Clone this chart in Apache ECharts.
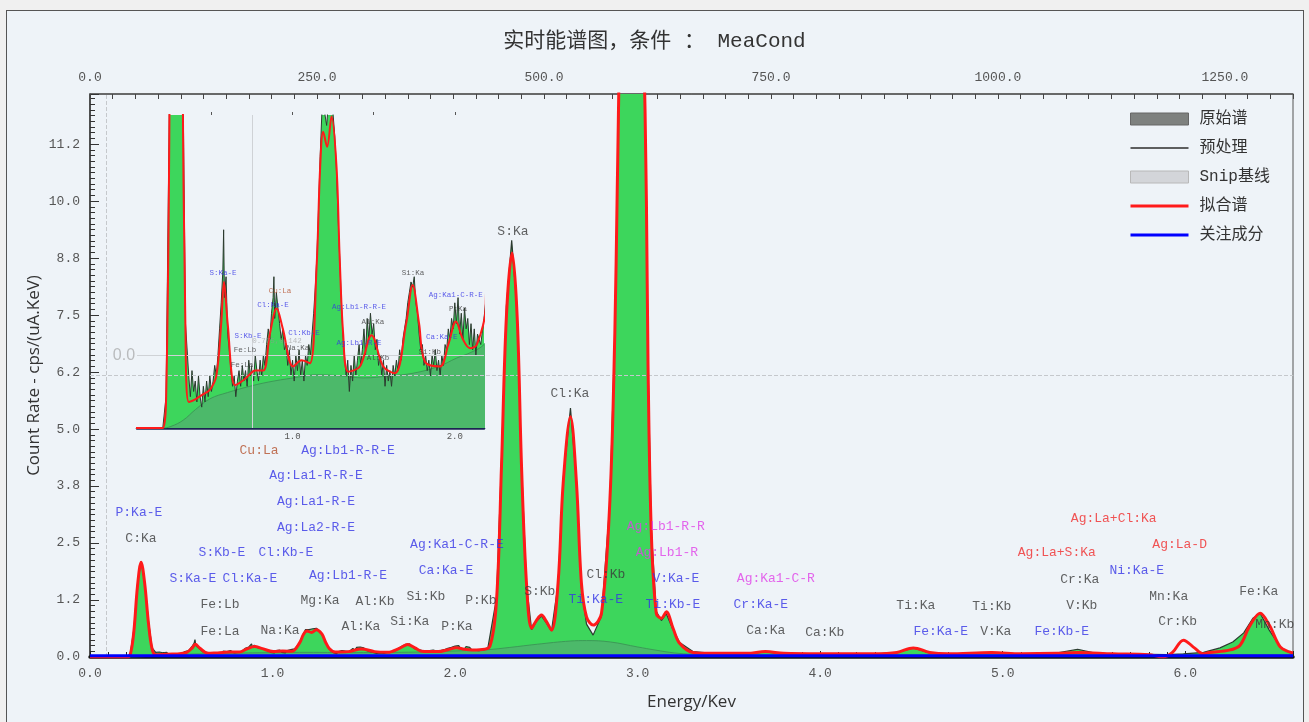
<!DOCTYPE html>
<html>
<head>
<meta charset="utf-8">
<script src="https://cdn.jsdelivr.net/npm/echarts@6/dist/echarts.min.js"></script>
<style>
  html, body { margin: 0; padding: 0; background: #f0f0f0; }
  #frame { position: absolute; left: 6px; top: 10px; width: 1296px; height: 720px; border: 1px solid #555; background: #eef3f8; }
  #chart { position: absolute; left: 0; top: 0; width: 1309px; height: 722px; }
</style>
</head>
<body>
<div id="frame"></div>
<div id="chart"></div>
<script>
// ---------------- DATA ----------------
const chartTitle = '实时能谱图，条件 ： MeaCond';
const legendNames = ['原始谱', '预处理', 'Snip基线', '拟合谱', '关注成分'];

const xTickLabels = ['0.0', '1.0', '2.0', '3.0', '4.0', '5.0', '6.0'];
const topTickLabels = ['0.0', '250.0', '500.0', '750.0', '1000.0', '1250.0'];
const yTickLabels = ['0.0', '1.2', '2.5', '3.8', '5.0', '6.2', '7.5', '8.8', '10.0', '11.2'];
const insetTickLabels = ['1.0', '2.0'];

// raw spectrum (energy keV, count rate)
const rawE = [0, 0.18, 0.20, 0.22, 0.24, 0.26, 0.28, 0.30, 0.32, 0.34, 0.36, 0.37, 0.38, 0.39, 0.40, 0.41, 0.42, 0.43, 0.44, 0.45, 0.46, 0.47, 0.48, 0.49,
  0.50, 0.51, 0.52, 0.53, 0.54, 0.55, 0.56, 0.57, 0.575, 0.58, 0.59, 0.60, 0.61, 0.62, 0.63, 0.64, 0.65, 0.66, 0.67, 0.68, 0.69,
  0.70, 0.71, 0.72, 0.73, 0.74, 0.75, 0.76, 0.77, 0.78, 0.79, 0.80, 0.81, 0.82, 0.83, 0.84, 0.85, 0.86, 0.87, 0.88, 0.885, 0.89,
  0.90, 0.91, 0.92, 0.93, 0.94, 0.95, 0.96, 0.97, 0.98, 0.99, 1.00, 1.01, 1.02, 1.03, 1.04, 1.05, 1.06, 1.07, 1.08, 1.09,
  1.10, 1.11, 1.12, 1.13, 1.14, 1.15, 1.16, 1.17, 1.18, 1.19, 1.20, 1.21, 1.22, 1.23, 1.24, 1.25, 1.26, 1.27, 1.28, 1.29,
  1.30, 1.31, 1.32, 1.33, 1.34, 1.35, 1.36, 1.37, 1.38, 1.39, 1.40, 1.41, 1.42, 1.43, 1.44, 1.45, 1.46, 1.47, 1.48, 1.49,
  1.50, 1.51, 1.52, 1.53, 1.54, 1.55, 1.56, 1.57, 1.58, 1.59, 1.60, 1.61, 1.62, 1.63, 1.64, 1.65, 1.66, 1.67, 1.68, 1.69,
  1.70, 1.71, 1.72, 1.73, 1.74, 1.75, 1.76, 1.77, 1.78, 1.79, 1.80, 1.81, 1.82, 1.83, 1.84, 1.85, 1.86, 1.87, 1.88, 1.89,
  1.90, 1.91, 1.92, 1.93, 1.94, 1.95, 1.96, 1.97, 1.98, 1.99, 2.00, 2.01, 2.02, 2.03, 2.04, 2.05, 2.06, 2.07, 2.08, 2.09,
  2.10, 2.11, 2.12, 2.13, 2.14, 2.16, 2.18, 2.19, 2.227, 2.254, 2.281, 2.31, 2.34, 2.364, 2.391, 2.419, 2.445, 2.473, 2.50,
  2.528, 2.564, 2.592, 2.632, 2.665, 2.692, 2.72, 2.756, 2.802, 2.848, 2.875, 2.888, 2.91, 2.95, 2.99, 3.03, 3.048, 3.057,
  3.075, 3.102, 3.13, 3.157, 3.194, 3.23, 3.303, 3.412, 3.6, 3.70, 3.8, 4.0, 4.3, 4.42, 4.51, 4.6, 4.7, 4.94, 5.1, 5.3,
  5.41, 5.5, 5.6, 5.8, 5.9, 5.99, 6.1, 6.19, 6.26, 6.32, 6.37, 6.41, 6.46, 6.52, 6.57, 6.59];
const rawV = [0, 0, 0, 0.06, 0.6, 1.6, 2.1, 1.62, 0.8, 0.2, 0.1, 0.06, 0.11, 0.07, 0.09, 0.05, 0.10, 0.06, 0.04, 0.08, 0.05, 0.09, 0.06, 0.10,
  0.07, 0.09, 0.12, 0.10, 0.14, 0.19, 0.24, 0.30, 0.38, 0.25, 0.29, 0.18, 0.15, 0.11, 0.08, 0.10, 0.06, 0.09, 0.11, 0.08, 0.12,
  0.09, 0.11, 0.08, 0.13, 0.10, 0.12, 0.09, 0.14, 0.11, 0.09, 0.13, 0.10, 0.14, 0.12, 0.16, 0.19, 0.17, 0.22, 0.25, 0.29, 0.21,
  0.26, 0.23, 0.20, 0.17, 0.19, 0.15, 0.16, 0.12, 0.15, 0.10, 0.13, 0.09, 0.14, 0.11, 0.15, 0.10, 0.13, 0.09, 0.14, 0.12,
  0.16, 0.14, 0.18, 0.22, 0.27, 0.33, 0.42, 0.52, 0.60, 0.64, 0.60, 0.58, 0.62, 0.66, 0.63, 0.60, 0.56, 0.50, 0.41, 0.33,
  0.25, 0.18, 0.14, 0.10, 0.13, 0.07, 0.12, 0.09, 0.14, 0.10, 0.13, 0.16, 0.12, 0.15, 0.19, 0.14, 0.21, 0.17, 0.22, 0.18,
  0.20, 0.15, 0.17, 0.12, 0.14, 0.10, 0.13, 0.08, 0.12, 0.09, 0.11, 0.08, 0.12, 0.10, 0.13, 0.11, 0.15, 0.13, 0.17, 0.19,
  0.21, 0.24, 0.26, 0.28, 0.27, 0.29, 0.24, 0.22, 0.18, 0.15, 0.16, 0.12, 0.14, 0.11, 0.13, 0.10, 0.14, 0.12, 0.15, 0.11,
  0.13, 0.10, 0.14, 0.12, 0.16, 0.15, 0.19, 0.17, 0.21, 0.19, 0.24, 0.20, 0.25, 0.18, 0.22, 0.17, 0.23, 0.19, 0.21, 0.16,
  0.20, 0.15, 0.19, 0.14, 0.18, 0.16, 0.21, 0.24, 1.3, 4.3, 7.7, 9.14, 7.6, 4.2, 1.6, 0.6, 0.78, 0.9, 0.75,
  0.57, 1.6, 3.9, 5.46, 3.85, 1.5, 0.72, 0.48, 0.9, 3.4, 7.1, 10.2, 15, 19, 19, 14, 10, 6.4,
  2.8, 1.0, 0.80, 0.95, 0.6, 0.32, 0.12, 0.08, 0.07, 0.11, 0.07, 0.07, 0.07, 0.1, 0.2, 0.09, 0.07, 0.09, 0.07, 0.09,
  0.17, 0.09, 0.07, 0.06, 0.05, 0.07, 0.1, 0.2, 0.33, 0.53, 0.85, 0.96, 0.59, 0.22, 0.1, 0.08];

// fitted spectrum
const fitE = [0, 0.18, 0.20, 0.22, 0.24, 0.26, 0.28, 0.30, 0.32, 0.34, 0.36, 0.40, 0.45, 0.49, 0.53, 0.56, 0.577, 0.60, 0.645, 0.69,
  0.727, 0.77, 0.819, 0.86, 0.902, 0.94, 1.004, 1.056, 1.107, 1.148, 1.17, 1.189, 1.213, 1.24, 1.271, 1.29, 1.312, 1.343, 1.415,
  1.487, 1.559, 1.631, 1.70, 1.74, 1.78, 1.816, 1.908, 1.96, 2.007, 2.05, 2.094, 2.136, 2.19, 2.227, 2.254, 2.281, 2.312, 2.34,
  2.364, 2.391, 2.419, 2.445, 2.473, 2.50, 2.528, 2.564, 2.592, 2.632, 2.665, 2.692, 2.72, 2.756, 2.802, 2.848, 2.875, 2.888,
  2.91, 2.95, 2.99, 3.03, 3.048, 3.057, 3.075, 3.102, 3.13, 3.157, 3.194, 3.23, 3.303, 3.412, 3.6, 3.70, 3.8, 4.0, 4.3, 4.42,
  4.51, 4.6, 4.7, 4.94, 5.1, 5.3, 5.41, 5.6, 5.8, 5.88, 5.93, 5.99, 6.05, 6.1, 6.13, 6.24, 6.30, 6.35, 6.41, 6.46, 6.52, 6.57, 6.59];
const fitV = [0, 0, 0, 0.05, 0.55, 1.55, 2.08, 1.6, 0.75, 0.18, 0.05, 0.055, 0.065, 0.073, 0.1, 0.2, 0.28, 0.2, 0.082, 0.09,
  0.10, 0.11, 0.11, 0.18, 0.229, 0.19, 0.118, 0.13, 0.124, 0.309, 0.5, 0.568, 0.539, 0.597, 0.50, 0.33, 0.18, 0.108, 0.118,
  0.178, 0.118, 0.105, 0.2, 0.274, 0.2, 0.127, 0.118, 0.16, 0.204, 0.17, 0.153, 0.16, 0.23, 1.25, 4.17, 7.46, 8.86, 7.46,
  4.17, 1.62, 0.63, 0.8, 0.92, 0.78, 0.59, 1.62, 3.81, 5.27, 3.81, 1.62, 0.88, 0.70, 0.96, 3.44, 7.1, 10.2,
  15, 19, 19, 14, 10, 6.37, 2.71, 0.96, 0.85, 0.99, 0.63, 0.3, 0.1, 0.08, 0.08, 0.12, 0.08, 0.07, 0.07, 0.1,
  0.2, 0.1, 0.07, 0.1, 0.07, 0.08, 0.1, 0.07, 0.05, 0.0, 0.1, 0.37, 0.2, 0.07, 0.1, 0.15, 0.26, 0.66, 0.96, 0.70, 0.22, 0.11, 0.09];

// SNIP baseline
const baseE = [0, 0.2, 0.25, 0.326, 0.4, 0.491, 0.6, 0.737, 0.85, 1.004, 1.148, 1.3, 1.435, 1.6, 1.743, 1.9, 2.011, 2.1, 2.18,
  2.3, 2.45, 2.63, 2.72, 2.85, 3.0, 3.1, 3.2, 3.3, 3.45, 3.7, 4.5, 5.5, 6.0, 6.3, 6.59];
const baseV = [0, 0, 0.003, 0.015, 0.035, 0.056, 0.068, 0.08, 0.088, 0.096, 0.102, 0.1, 0.096, 0.1, 0.105, 0.118, 0.134, 0.145, 0.16,
  0.21, 0.28, 0.35, 0.36, 0.33, 0.22, 0.15, 0.09, 0.06, 0.045, 0.04, 0.04, 0.04, 0.045, 0.05, 0.05];

// component of interest
const focusE = [0, 6.59];
const focusV = [0.03, 0.03];

// crosshair positions
const crossMain = [0.093, 6.18];
const crossInset = [0.75, 0.142];

// peak annotations in main plot: [text, energy, level, kind]
const mainNotes = [
  ['P:Ka-E', 0.268, 3.16, 'esc'], ['C:Ka', 0.279, 2.59, 'el'], ['S:Kb-E', 0.723, 2.28, 'esc'], ['S:Ka-E', 0.564, 1.73, 'esc'],
  ['Cl:Ka-E', 0.876, 1.73, 'esc'], ['Cl:Kb-E', 1.073, 2.28, 'esc'], ['Fe:Lb', 0.712, 1.14, 'el'], ['Fe:La', 0.712, 0.55, 'el'],
  ['Cu:La', 0.926, 4.52, 'cu'], ['Ag:Lb1-R-R-E', 1.413, 4.52, 'esc'], ['Ag:La1-R-R-E', 1.238, 3.97, 'esc'],
  ['Ag:La1-R-E', 1.238, 3.40, 'esc'], ['Ag:La2-R-E', 1.238, 2.85, 'esc'], ['Ag:Lb1-R-E', 1.413, 1.78, 'esc'],
  ['Na:Ka', 1.041, 0.59, 'el'], ['Mg:Ka', 1.26, 1.23, 'el'], ['Al:Kb', 1.561, 1.21, 'el'], ['Al:Ka', 1.484, 0.66, 'el'],
  ['Si:Kb', 1.84, 1.32, 'el'], ['Si:Ka', 1.752, 0.77, 'el'], ['P:Kb', 2.141, 1.23, 'el'], ['P:Ka', 2.01, 0.66, 'el'],
  ['Ag:Ka1-C-R-E', 2.01, 2.46, 'esc'], ['Ca:Ka-E', 1.95, 1.89, 'esc'], ['S:Ka', 2.317, 9.34, 'el'], ['S:Kb', 2.464, 1.43, 'el'],
  ['Cl:Ka', 2.629, 5.77, 'el'], ['Cl:Kb', 2.826, 1.80, 'el'], ['Ti:Ka-E', 2.771, 1.25, 'esc'],
  ['Ag:Lb1-R-R', 3.154, 2.87, 'pile'], ['Ag:Lb1-R', 3.16, 2.30, 'pile'], ['V:Ka-E', 3.209, 1.73, 'esc'], ['Ti:Kb-E', 3.193, 1.16, 'esc'],
  ['Ag:Ka1-C-R', 3.757, 1.71, 'pile'], ['Cr:Ka-E', 3.675, 1.14, 'esc'], ['Ca:Ka', 3.702, 0.57, 'el'], ['Ca:Kb', 4.025, 0.53, 'el'],
  ['Ti:Ka', 4.524, 1.12, 'el'], ['Fe:Ka-E', 4.66, 0.55, 'esc'], ['Ti:Kb', 4.94, 1.10, 'el'], ['V:Ka', 4.962, 0.55, 'el'],
  ['Fe:Kb-E', 5.323, 0.55, 'esc'], ['Cr:Ka', 5.422, 1.69, 'el'], ['V:Kb', 5.433, 1.12, 'el'], ['Ag:La+S:Ka', 5.296, 2.28, 'sum'],
  ['Ag:La+Cl:Ka', 5.608, 3.03, 'sum'], ['Ni:Ka-E', 5.734, 1.89, 'esc'], ['Ag:La-D', 5.969, 2.46, 'sum'], ['Mn:Ka', 5.909, 1.32, 'el'],
  ['Cr:Kb', 5.958, 0.77, 'el'], ['Fe:Ka', 6.402, 1.43, 'el'], ['Mn:Kb', 6.49, 0.72, 'el'], ['0.0', 0.186, 6.62, 'ghost']
];
// peak annotations in the inset
const insetNotes = [
  ['S:Ka-E', 0.571, 0.297, 'esc'], ['Cu:La', 0.922, 0.263, 'cu'], ['Cl:Ka-E', 0.879, 0.236, 'esc'], ['S:Kb-E', 0.725, 0.176, 'esc'],
  ['Fe:Lb', 0.706, 0.150, 'el'], ['Fe:La', 0.688, 0.121, 'el'], ['0.775,0.142', 0.904, 0.167, 'ghost'], ['Cl:Kb-E', 1.07, 0.182, 'esc'],
  ['Na:Ka', 1.033, 0.153, 'el'], ['Ag:Lb1-R-R-E', 1.409, 0.232, 'esc'], ['Al:Ka', 1.495, 0.203, 'el'], ['Ag:Lb1-R-E', 1.409, 0.163, 'esc'],
  ['Al:Kb', 1.526, 0.134, 'el'], ['Si:Ka', 1.742, 0.297, 'el'], ['Ag:Ka1-C-R-E', 2.006, 0.255, 'esc'], ['P:Ka', 2.019, 0.228, 'el'],
  ['Ca:Ka-E', 1.92, 0.174, 'esc'], ['Si:Kb', 1.846, 0.146, 'el']
];

// ---------------- STYLE / BUILD ----------------
const noteColors = { el: '#3a3a3a', esc: '#3434e6', pile: '#e040e8', sum: '#f02a2a', cu: '#b4502c', ghost: 'rgba(150,150,150,0.75)' };
const MONO = "'Liberation Mono', 'DejaVu Sans Mono', monospace";
const SANS = "'Open Sans', 'Noto Sans', sans-serif";
const zip = (xs, ys) => xs.map((x, i) => [x, ys[i]]);
const rawData = zip(rawE, rawV), fitData = zip(fitE, fitV), baseData = zip(baseE, baseV), focusData = zip(focusE, focusV);

const chart = echarts.init(document.getElementById('chart'), null, { renderer: 'canvas' });

function noteSeries(notes, xi, yi, size) {
  return {
    type: 'scatter', xAxisIndex: xi, yAxisIndex: yi, symbolSize: 0, silent: true, z: 10,
    data: notes.map(n => ({
      value: [n[1], n[2]], name: n[0],
      label: { color: noteColors[n[3]], fontSize: n[3] === 'ghost' && size > 10 ? 16 : size,
               fontFamily: n[3] === 'ghost' && size > 10 ? "'Liberation Sans', sans-serif" : MONO }
    })),
    label: { show: true, position: 'inside', formatter: p => p.name }
  };
}

function fmt(labels, step) {
  return v => {
    const k = v / step;
    const r = Math.round(k);
    return Math.abs(k - r) < 1e-6 && labels[r] !== undefined ? labels[r] : '';
  };
}

const option = {
  animation: false,
  backgroundColor: 'transparent',
  title: {
    text: chartTitle, left: 'center', top: 26,
    textStyle: { fontSize: 21, fontWeight: 'normal', color: '#333', fontFamily: "'Liberation Mono', 'Noto Sans CJK SC', monospace" }
  },
  legend: {
    orient: 'vertical', left: 1125, top: 106, itemWidth: 58, itemHeight: 12, itemGap: 13,
    textStyle: { fontSize: 16, color: '#333', fontFamily: "'Liberation Mono', 'Noto Sans CJK SC', monospace", padding: [0, 0, 0, 6] },
    data: [
      { name: legendNames[0], icon: 'rect', itemStyle: { color: '#7e817f', borderColor: '#666', borderWidth: 1 } },
      { name: legendNames[1], icon: 'path://M0,0H58V1.3H0Z', itemStyle: { color: '#2c2c2c', borderWidth: 0 } },
      { name: legendNames[2], icon: 'rect', itemStyle: { color: '#d3d5d9', borderColor: '#b8b8b8', borderWidth: 1 } },
      { name: legendNames[3], icon: 'path://M0,0H58V3H0Z', itemStyle: { color: '#ff1a1a', borderWidth: 0 } },
      { name: legendNames[4], icon: 'path://M0,0H58V3H0Z', itemStyle: { color: '#0000ff', borderWidth: 0 } }
    ]
  },
  grid: [
    { left: 90, right: 16, top: 94, bottom: 65, show: true, borderColor: '#555', borderWidth: 1, backgroundColor: 'transparent' },
    { left: 137, top: 115, width: 347, height: 313, show: false }
  ],
  xAxis: [
    { type: 'value', gridIndex: 0, min: 0, max: 6.59, interval: 1,
      name: 'Energy/Kev', nameLocation: 'middle', nameGap: 37,
      nameTextStyle: { fontSize: 17, color: '#333', fontFamily: SANS },
      axisLine: { lineStyle: { color: '#111', width: 3.5 } },
      axisTick: { inside: true, length: 6, lineStyle: { color: '#222' } },
      minorTick: { show: true, splitNumber: 10, length: 5, lineStyle: { color: '#222' } },
      splitLine: { show: false },
      axisLabel: { formatter: fmt(xTickLabels, 1), margin: 10, color: '#555', fontSize: 13, fontFamily: MONO } },
    { type: 'value', gridIndex: 0, position: 'top', min: 0, max: 1325, interval: 250,
      axisLine: { lineStyle: { color: '#555', width: 1.5 } },
      axisTick: { inside: true, length: 5, lineStyle: { color: '#444' } },
      minorTick: { show: true, splitNumber: 10, length: 5, lineStyle: { color: '#444' } },
      splitLine: { show: false },
      axisLabel: { formatter: fmt(topTickLabels, 250), margin: 10, color: '#555', fontSize: 13, fontFamily: MONO } },
    { type: 'value', gridIndex: 1, min: 0.041, max: 2.18,
      axisLine: { lineStyle: { color: '#1b2552', width: 2.5 } },
      axisTick: { show: false }, splitLine: { show: false },
      axisLabel: { customValues: [1, 2], formatter: fmt(['', ...insetTickLabels], 1), margin: 4, color: '#555', fontSize: 9, fontFamily: MONO } },
    { type: 'value', gridIndex: 1, position: 'top', min: 0.041, max: 2.18,
      axisLine: { show: false }, splitLine: { show: false }, axisLabel: { show: false },
      axisTick: { show: true, customValues: [0.5, 1, 1.5, 2], length: 3, inside: false, lineStyle: { color: '#555' } } }
  ],
  yAxis: [
    { type: 'value', gridIndex: 0, min: 0, max: 12.35, interval: 1.25,
      name: 'Count Rate - cps/(uA.KeV)', nameLocation: 'middle', nameGap: 47, nameMoveOverlap: false,
      nameTextStyle: { fontSize: 17, color: '#333', fontFamily: SANS },
      axisLine: { show: true, lineStyle: { color: '#333', width: 1.5 } },
      axisTick: { show: true, inside: true, length: 9, lineStyle: { color: '#333' } },
      minorTick: { show: true, splitNumber: 10, length: 5, lineStyle: { color: '#333' } },
      splitLine: { show: false },
      axisLabel: { formatter: fmt(yTickLabels, 1.25), margin: 10, color: '#555', fontSize: 13, fontFamily: MONO } },
    { type: 'value', gridIndex: 1, min: 0, max: 0.6, show: false }
  ],
  series: [
    // crosshair hosts (behind everything)
    { type: 'line', name: '_cross', xAxisIndex: 0, yAxisIndex: 0, data: [[0, 0]], symbol: 'none', z: 1, silent: true,
      lineStyle: { opacity: 0 },
      markLine: { silent: true, symbol: 'none', label: { show: false },
        lineStyle: { color: '#c5c8cc', type: 'dashed', width: 1 },
        data: [{ xAxis: crossMain[0] }, { yAxis: crossMain[1] }] } },
    { type: 'line', name: '_cross2', xAxisIndex: 2, yAxisIndex: 1, data: [[0.041, 0]], symbol: 'none', z: 1, silent: true,
      lineStyle: { opacity: 0 },
      markLine: { silent: true, symbol: 'none', label: { show: false },
        lineStyle: { color: '#cfd2d6', type: 'solid', width: 1 },
        data: [{ xAxis: crossInset[0] }, { yAxis: crossInset[1] }] } },

    // main plot
    { name: legendNames[0], type: 'line', xAxisIndex: 0, yAxisIndex: 0, data: rawData, symbol: 'none', z: 2,
      itemStyle: { color: '#7e817f' }, lineStyle: { width: 0, opacity: 0 }, areaStyle: { color: '#3dd65c', opacity: 1 } },
    { name: legendNames[2], type: 'line', xAxisIndex: 0, yAxisIndex: 0, data: baseData, symbol: 'none', smooth: 0.4, z: 3,
      itemStyle: { color: '#d3d5d9' }, lineStyle: { color: '#3c9a57', width: 1 }, areaStyle: { color: '#4cb96a', opacity: 1 } },
    { name: legendNames[1], type: 'line', xAxisIndex: 0, yAxisIndex: 0, data: rawData, symbol: 'none', z: 4,
      itemStyle: { color: '#333' }, lineStyle: { color: '#2c3a2f', width: 1.2 } },
    { name: legendNames[3], type: 'line', xAxisIndex: 0, yAxisIndex: 0, data: fitData, symbol: 'none', smooth: 0.35, z: 5,
      itemStyle: { color: '#ff1a1a' }, lineStyle: { color: '#ff1a1a', width: 3 } },
    { name: legendNames[4], type: 'line', xAxisIndex: 0, yAxisIndex: 0, data: focusData, symbol: 'none', z: 6,
      itemStyle: { color: '#0000ff' }, lineStyle: { color: '#0000ff', width: 3 } },

    // inset plot
    { name: legendNames[0], type: 'line', xAxisIndex: 2, yAxisIndex: 1, data: rawData, symbol: 'none', z: 2,
      itemStyle: { color: '#7e817f' }, lineStyle: { width: 0, opacity: 0 }, areaStyle: { color: '#3dd65c', opacity: 1 } },
    { name: legendNames[2], type: 'line', xAxisIndex: 2, yAxisIndex: 1, data: baseData, symbol: 'none', smooth: 0.4, z: 3,
      itemStyle: { color: '#d3d5d9' }, lineStyle: { color: '#3c9a57', width: 1 }, areaStyle: { color: '#4cb96a', opacity: 1 } },
    { name: legendNames[1], type: 'line', xAxisIndex: 2, yAxisIndex: 1, data: rawData, symbol: 'none', z: 4,
      itemStyle: { color: '#333' }, lineStyle: { color: '#2c3a2f', width: 1 } },
    { name: legendNames[3], type: 'line', xAxisIndex: 2, yAxisIndex: 1, data: fitData, symbol: 'none', smooth: 0.35, z: 5,
      itemStyle: { color: '#ff1a1a' }, lineStyle: { color: '#ff1a1a', width: 2 } },

    noteSeries(mainNotes, 0, 0, 13),
    noteSeries(insetNotes, 2, 1, 7.5)
  ]
};
chart.setOption(option);
</script>
</body>
</html>
